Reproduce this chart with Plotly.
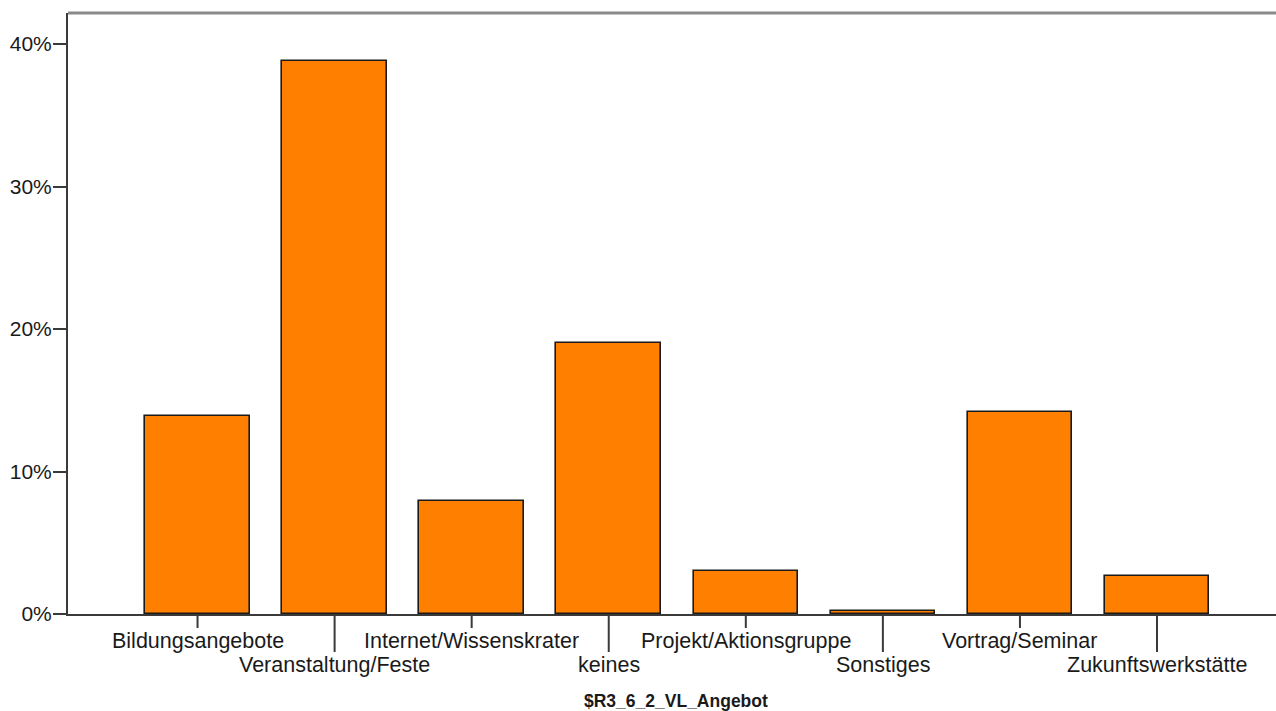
import plotly.graph_objects as go

categories = ["Bildungsangebote", "Veranstaltung/Feste", "Internet/Wissenskrater", "keines",
              "Projekt/Aktionsgruppe", "Sonstiges", "Vortrag/Seminar", "Zukunftswerkstätte"]
values = [13.9, 38.8, 7.9, 19.0, 3.0, 0.2, 14.2, 2.7]
y_ticks = [0, 10, 20, 30, 40]
y_tick_labels = ["0%", "10%", "20%", "30%", "40%"]
x_title = "$R3_6_2_VL_Angebot"

AX = "#3a3a3a"
TXT = "#1a1a1a"
FONT = "Liberation Sans, Arial, sans-serif"

fig = go.Figure(go.Bar(
    x=categories, y=values, width=0.763,
    marker=dict(color="#FF8000", line=dict(color="#1a1a1a", width=1.6)),
))

shapes = [dict(type="line", xref="paper", yref="paper", x0=0, x1=1, y0=1, y1=1,
               line=dict(color="#8a8a8a", width=3))]
annotations = []
for i, c in enumerate(categories):
    row2 = i % 2 == 1
    shapes.append(dict(type="line", xref="x", yref="paper", x0=c, x1=c,
                       ysizemode="pixel", yanchor=0, y0=0, y1=-38 if row2 else -14,
                       line=dict(color=AX, width=2)))
    annotations.append(dict(text=c, x=c, xref="x", y=0, yref="paper", showarrow=False,
                            yanchor="middle", yshift=-27 - (24 if row2 else 0),
                            font=dict(size=21.5, color=TXT, family=FONT)))
annotations.append(dict(text="<b>" + x_title + "</b>", x=0.503, xref="paper", y=0, yref="paper",
                        yanchor="middle", yshift=-87, showarrow=False,
                        font=dict(size=17.5, color=TXT, family=FONT)))

fig.update_layout(
    width=1276, height=711,
    margin=dict(l=68, r=0, t=13, b=97),
    paper_bgcolor="white", plot_bgcolor="white",
    showlegend=False, bargap=0,
    shapes=shapes, annotations=annotations,
    xaxis=dict(type="category", range=[-0.945, 7.868], showticklabels=False, ticks="",
               showline=True, linecolor=AX, linewidth=2, showgrid=False, zeroline=False),
    yaxis=dict(range=[0, 42.18], tickvals=y_ticks, ticktext=y_tick_labels, ticks="outside",
               ticklen=13, tickwidth=2, tickcolor=AX, showline=True, linecolor=AX, linewidth=2,
               showgrid=False, zeroline=False, ticklabelstandoff=-3,
               tickfont=dict(size=21, color=TXT, family=FONT)),
    font=dict(family=FONT, color=TXT),
)

fig.write_html("out.html", config={"displayModeBar": False},
               post_script="document.body.style.margin='0';document.body.style.overflow='hidden';")
